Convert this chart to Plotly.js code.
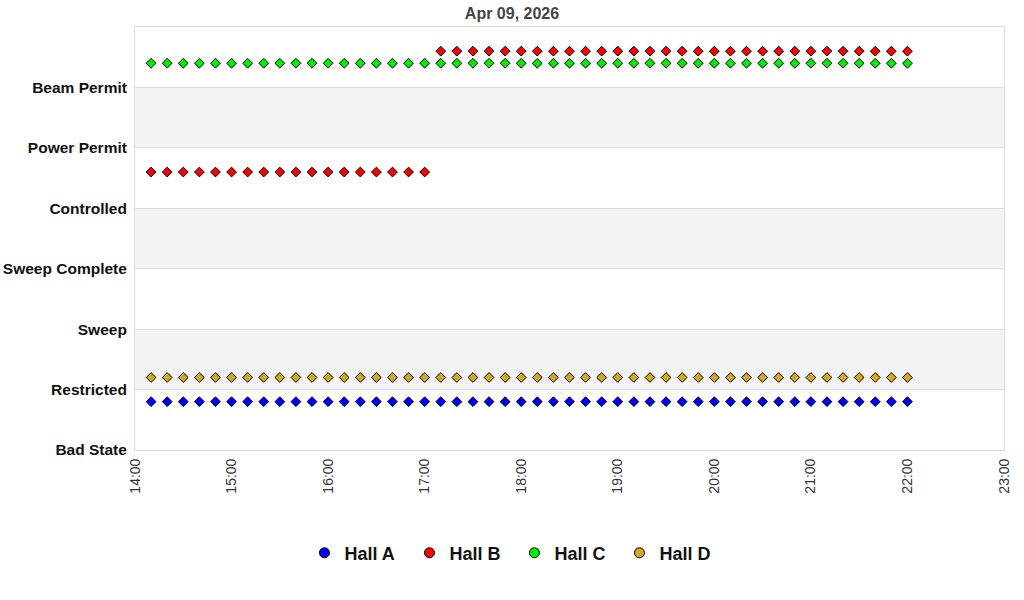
<!DOCTYPE html>
<html>
<head>
<meta charset="utf-8">
<script src="https://cdn.plot.ly/plotly-3.0.1.min.js"></script>
<style>
  html, body { margin: 0; padding: 0; background: #fff; }
  #chart { width: 1024px; height: 600px; }
</style>
</head>
<body>
<div id="chart"></div>
<script>
// state names, bottom to top (index = level on the y axis)
const STATES = ["Bad State", "Restricted", "Sweep", "Sweep Complete", "Controlled", "Power Permit", "Beam Permit"];

const HALLS = ["Hall A", "Hall B", "Hall C", "Hall D"];
const HALL_COLORS = ["#0000ff", "#ff0000", "#00ee00", "#daa520"];
// vertical nudge inside a state band so halls don't overlap
const HALL_OFFSETS = [-0.2, 0.6, 0.4, 0.2];

const TIMES = [
  "14:10", "14:20", "14:30", "14:40", "14:50", "15:00",
  "15:10", "15:20", "15:30", "15:40", "15:50", "16:00",
  "16:10", "16:20", "16:30", "16:40", "16:50", "17:00",
  "17:10", "17:20", "17:30", "17:40", "17:50", "18:00",
  "18:10", "18:20", "18:30", "18:40", "18:50", "19:00",
  "19:10", "19:20", "19:30", "19:40", "19:50", "20:00",
  "20:10", "20:20", "20:30", "20:40", "20:50", "21:00",
  "21:10", "21:20", "21:30", "21:40", "21:50", "22:00"
];

const hallA = [
  1, 1, 1, 1, 1, 1, 1, 1, 1, 1, 1, 1, 1, 1, 1, 1, 1, 1, 1, 1, 1, 1, 1, 1,
  1, 1, 1, 1, 1, 1, 1, 1, 1, 1, 1, 1, 1, 1, 1, 1, 1, 1, 1, 1, 1, 1, 1, 1
];
const hallB = [
  4, 4, 4, 4, 4, 4, 4, 4, 4, 4, 4, 4, 4, 4, 4, 4, 4, 4, 6, 6, 6, 6, 6, 6,
  6, 6, 6, 6, 6, 6, 6, 6, 6, 6, 6, 6, 6, 6, 6, 6, 6, 6, 6, 6, 6, 6, 6, 6
];
const hallC = [
  6, 6, 6, 6, 6, 6, 6, 6, 6, 6, 6, 6, 6, 6, 6, 6, 6, 6, 6, 6, 6, 6, 6, 6,
  6, 6, 6, 6, 6, 6, 6, 6, 6, 6, 6, 6, 6, 6, 6, 6, 6, 6, 6, 6, 6, 6, 6, 6
];
const hallD = [
  1, 1, 1, 1, 1, 1, 1, 1, 1, 1, 1, 1, 1, 1, 1, 1, 1, 1, 1, 1, 1, 1, 1, 1,
  1, 1, 1, 1, 1, 1, 1, 1, 1, 1, 1, 1, 1, 1, 1, 1, 1, 1, 1, 1, 1, 1, 1, 1
];

const DAY = "2026-04-09";
const X_RANGE = ["14:00", "23:00"];

const FONT = "Liberation Sans, Arial, sans-serif";

function makeTraces() {
    const series = [hallA, hallB, hallC, hallD];
    const x = TIMES.map(t => `${DAY} ${t}`);
    const traces = [];

    series.forEach((vals, i) => {
        traces.push({
            x: x,
            y: vals.map(v => v + HALL_OFFSETS[i]),
            type: "scatter",
            mode: "markers",
            name: HALLS[i],
            showlegend: false,
            marker: {symbol: "diamond", size: 7.5, color: HALL_COLORS[i], line: {width: 1, color: "#000"}},
            hovertemplate: `${HALLS[i]}<br>%{x|%H:%M}<extra></extra>`
        });
    });

    // legend entries use round markers, like the original
    HALLS.forEach((h, i) => {
        traces.push({
            x: [null], y: [null],
            type: "scatter",
            mode: "markers",
            name: h,
            marker: {symbol: "circle", size: 10, color: HALL_COLORS[i], line: {width: 1, color: "#000"}},
            hoverinfo: "skip"
        });
    });
    return traces;
}

// alternating grey bands: every other state band
function makeBands() {
    const shapes = [];
    for (let i = 1; i < STATES.length; i += 2) {
        shapes.push({
            type: "rect", xref: "paper", yref: "y",
            x0: 0, x1: 1, y0: i, y1: i + 1,
            fillcolor: "#f3f3f3", line: {width: 0}, layer: "below"
        });
    }
    return shapes;
}

const layout = {
    width: 1024,
    height: 600,
    margin: {l: 135, r: 20, t: 27, b: 150},
    paper_bgcolor: "#fff",
    plot_bgcolor: "#fff",
    title: {
        text: "Apr 09, 2026",
        font: {size: 16, family: FONT, color: "#444", weight: "bold"},
        x: 0.5, xanchor: "center",
        y: 0.978, yanchor: "middle"
    },
    xaxis: {
        type: "date",
        range: X_RANGE.map(t => `${DAY} ${t}`),
        dtick: 3600000,
        tick0: `${DAY} 14:00`,
        tickformat: "%H:%M",
        tickangle: -90,
        tickfont: {size: 14, family: FONT, color: "#333"},
        showgrid: false,
        zeroline: false,
        showline: true, mirror: true, linecolor: "#ddd", linewidth: 1,
        ticks: "outside", ticklen: 2, tickcolor: "rgba(0,0,0,0)"
    },
    yaxis: {
        range: [0, STATES.length],
        tickvals: STATES.map((s, i) => i),
        ticktext: STATES,
        tickfont: {size: 15.5, family: FONT, color: "#111", weight: "bold"},
        showgrid: true, gridcolor: "#ddd", gridwidth: 1,
        zeroline: false,
        showline: true, mirror: true, linecolor: "#ddd", linewidth: 1,
        ticks: "outside", ticklen: 4, tickcolor: "rgba(0,0,0,0)",
        fixedrange: true
    },
    shapes: makeBands(),
    legend: {
        orientation: "h",
        x: 0.195, xanchor: "left",
        y: -0.2, yanchor: "top",
        font: {size: 18, family: FONT, color: "#111", weight: "bold"},
        entrywidth: 60,
        entrywidthmode: "pixels",
        traceorder: "normal"
    },
    showlegend: true
};

Plotly.newPlot("chart", makeTraces(), layout, {displayModeBar: false, staticPlot: false});
</script>
</body>
</html>
